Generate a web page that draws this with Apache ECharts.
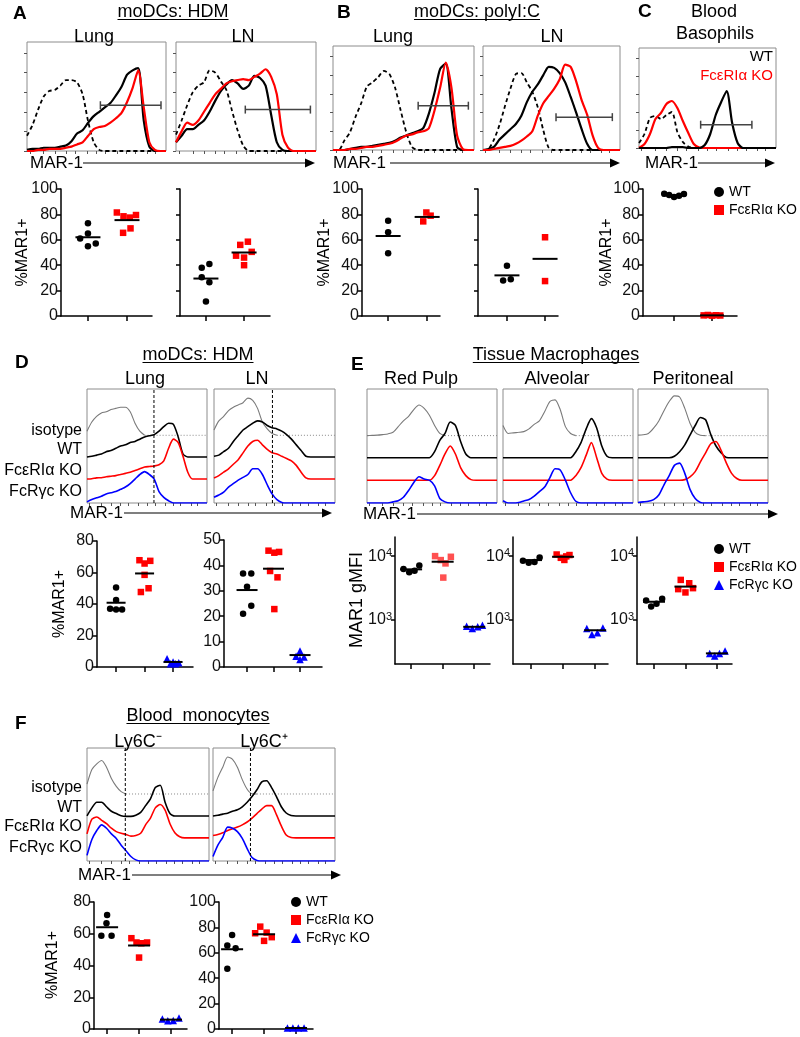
<!DOCTYPE html>
<html><head><meta charset="utf-8">
<script src="https://cdn.jsdelivr.net/npm/echarts@6/dist/echarts.min.js"></script>
<style>html,body{margin:0;padding:0;background:#fff}#c{width:800px;height:1037px}</style>
</head><body><div id="c"></div>
<script>
const FAM = '"Liberation Sans", Arial, Helvetica, sans-serif';

// ---------- histogram data (x = channel position 0..100, y = % of box height) ----------
const X = [0,4,8,12,16,20,24,28,32,36,40,44,48,52,56,60,64,68,72,76,80,84,88,92,96,100];
const histTicks = [2,12,20,28,34.5,43,50,56.5,65,71.5,78,86.5,92];
const histYTicks = [0,18,36,54,72,90];

// A
const aLungIso = [14,24,38,50,55,56,60,65,65,63,52,27,8,1,0,0,0,0,0,0,0,0,0,0,0,0];
const aLungWT  = [1,2,2,3,3,3,4,5,9,16,19,26,32,36,40,44,51,59,70,74,76,28,4,0,0,0];
const aLungKO  = [0,0,1,1,2,2,2,3,4,6,8,14,20,22,23,26,30,35,45,58,74,40,8,1,0,0];
const aLNIso   = [15,28,42,54,60,63,74,72,64,56,37,19,5,0,0,0,0,0,0,0,0,0,0,0,0,0];
const aLNWT    = [8,14,20,20,24,28,36,46,55,61,65,62,57,60,69,67,60,33,8,1,0,0,0,0,0,0];
const aLNKO    = [8,18,26,24,28,36,44,52,57,62,64,65,66,65,68,71,75,68,52,15,3,0,0,0,0,0];
const aLungGate = [52.8,96.4,42];
const aLNGate   = [49.5,96,38];
// B
const bLungIso = [0,0,9,17,32,45,61,65,70,76,73,60,38,17,3,0,0,0,0,0,0,0,0,0,0,0];
const bLungWT  = [0,0,0,1,2,3,3,4,5,6,7,9,12,14,16,18,21,35,55,78,83,40,3,0,0,0];
const bLungKO  = [0,0,0,1,1,2,3,3,4,5,6,8,11,14,15,17,18,21,38,60,84,60,14,1,0,0];
const bLNIso   = [0,1,10,24,42,59,73,74,65,56,41,19,2,0,0,0,0,0,0,0,0,0,0,0,0,0];
const bLNWT    = [0,1,3,10,15,20,25,33,46,56,63,72,80,79,74,65,51,36,20,6,0,0,0,0,0,0];
const bLNKO    = [0,0,1,2,3,4,6,9,13,18,33,45,52,59,68,82,80,66,48,34,14,2,0,0,0,0];
const bLungGate = [60.4,96,42.6];
const bLNGate   = [53.3,94.4,31.6];
// C
const cIso = [5,14,30,32,29,33,36,16,6,1.5,0,0,0,0,0,0,0,0,0,0,0,0,0,0,0,0];
const cKO  = [0,4,14,29,35,44,47,40,27,15,4,0.5,0,0,0,0,0,0,0,0,0,0,0,0,0,0];
const cWT  = [0,0,0,0,0,0,1,1,1,0,0,0,3,14,33,46,57,25,5,0,0,0,0,0,0,0];
const cGate = [45,82.4,23.3];
// D (stacked, offset curves)
const dLungIso = [63,71,76,79,80,82,83,84,84,80,70,63,59.4];
const dLungWT  = [40.4,41,42,43,45,46,48,50,51,53,54,56,58,59,60,63,67,70,69,58,43,40.4,40.4,40.4,40.4,40.4];
const dLungKO  = [21,21.3,22,22.2,23,23.5,24,25,26,27,28.5,30,31.5,32,32.5,33.5,37,48,56,53,41,27,21,21,21,21];
const dLungFc  = [1,3,4.5,6,8,9,10,12,14,17,21,25,27.5,25,21,10,5,2,0,0,0,0,0,0,0,0];
const dLNIso   = [64,72,76,81,84,86,88,92,90,83,71,65,61,59.4];
const dLNWT    = [41,42,45,48,54,59,64,67,70,72,71,68,66,65,63,60,56,51,46,41,40.4,40.4,40.4,40.4,40.4,40.4];
const dLNKO    = [22,24,27,30,34,38,44,50,54,55,51,47,44,43,41,39,37,33,27,22,21,21,21,21,21,21];
const dLNFc    = [5,7,9.5,14,17,20,22.5,25,30,30,25,16,8,3,0.5,0,0,0,0,0,0,0,0,0,0,0];
const dLungCut = 55.8, dLNCut = 48.3;
// E
const eRPIso  = [59.1,59.3,59.5,60,60.6,62,67,72,76,82,86,83,77,68,61,59.1];
const eRPWT   = [39.7,39.7,39.7,39.7,39.7,39.7,39.7,39.7,39.7,39.7,39.7,39.7,39.7,45,55,61,71,68,54,43,39.7,39.7,39.7,39.7,39.7,39.7];
const eRPKO   = [20,20,20,20,20,20,20,20,20,20,20,20,20,24,33,43,50,43,31,24,20.5,20,20,20,20,20];
const eRPFc   = [0,0,0,0,0,1,2,5,11,18,23,21,20,15,4,1,0,0,0,0,0,0,0,0,0,0];
const eAlvIso = [68,61,61.5,62,62.6,65,69,72,80,89,90.5,82,67,61,59.1];
const eAlvWT  = [39.7,39.7,39.7,39.7,39.7,39.7,39.7,39.7,39.7,39.7,39.7,39.7,39.7,39.7,45,53,65,74,66,50,41,39.7,39.7,39.7,39.7,39.7];
const eAlvKO  = [20,20,20,20,20,20,20,20,20,20,20,20,20,20,24,31,42,53,40,26,21,20,20,20,20,20];
const eAlvFc  = [2,0,0,0.5,1.8,3,6,10,14,22,30,29,20,9,1.5,0,0,0,0,0,0,0,0,0,0,0];
const ePerIso = [59.5,59.8,61,65.6,72,81,89,94,93,83,70,62,59.5,59.1];
const ePerWT  = [39.7,39.7,39.7,39.7,39.7,39.7,39.7,41,45,51,59.5,68,75,73,60,50,44,40,39.7,39.7,39.7,39.7,39.7,39.7,39.7,39.7];
const ePerKO  = [20,20,20,20,20,20,20,20,20,20.5,23,27.5,36,44,52,54,46,35,26,21.5,20,20,20,20,20,20];
const ePerFc  = [0.5,1,1.5,3,7,16,24,33,35,26,12,4,0.5,0,0,0,0,0,0,0,0,0,0,0,0,0];
// F
const fNegIso = [68,81,86,89,83,73,66,61.4,59.3];
const fNegWT  = [40,47,52,52,48,44,42,40,39.5,39.5,40.5,43,49,55,65,67,52,42,39.8,39.8,39.8,39.8,39.8,39.8,39.8,39.8];
const fNegKO  = [24,37,39,36,33,29,26,24.5,23.5,22,22.5,24.5,32,38,47,50,45,33,25,21.5,20.5,20.5,20.5,20.5,20.5,20.5];
const fNegFc  = [5,19,27,32,29,24,20,14,9,4,1,0,0,0,0,0,0,0,0,0,0,0,0,0,0,0];
const fPosIso = [62,74,83,92,90,83,72,63.5,59.5,59.3];
const fPosWT  = [39.8,40.5,41.5,42.3,44,45.3,48,52,57,63,70,71,65,57,48,42.5,40.2,39.8,39.8,39.8,39.8,39.8,39.8,39.8,39.8,39.8];
const fPosKO  = [22.5,23.5,25,27,28.5,30,32,34.5,38,42,46,49,49,41,31,23,20.8,20.5,20.5,20.5,20.5,20.5,20.5,20.5,20.5,20.5];
const fPosFc  = [4,14,21,30,29,26,20,11,3,0.5,0,0,0,0,0,0,0,0,0,0,0,0,0,0,0,0];
const fNegCut = 31.4, fPosCut = 30.7;

// ---------- dot-plot data (x = group position with jitter, y = value) ----------
const aLungWTx=[1,1,0.8,1,1.2], aLungWTy=[73,65,61,55,57];
const aLungKOx=[1.74,1.91,2.07,2.23,2.09,1.9], aLungKOy=[81.5,78.5,77.5,79.5,69,65.5];
const aLungMed=[62,75.5];
const aLNWTx=[0.89,1.09,0.89,1.09,1], aLNWTy=[38,41,30.5,26.5,11.5];
const aLNKOx=[1.9,2.1,1.79,2,2.2,2], aLNKOy=[56,58.5,47.5,46,50.5,40];
const aLNMed=[29.5,50];
const bLungWTx=[1,1,1], bLungWTy=[75,66,49.5];
const bLungKOx=[1.98,2.09,1.9], bLungKOy=[81.5,79,74.5];
const bLungMed=[63,78];
const bLNWTx=[1,0.9,1.1], bLNWTy=[39.5,28,29];
const bLNKOx=[2,2], bLNKOy=[62,27.5];
const bLNMed=[32,45];
const cWTx=[0.74,0.87,1,1.13,1.26], cWTy=[96.3,95.3,93.7,94.7,96];
const cKOx=[1.78,1.89,2,2.11,2.22], cKOy=[0.5,0.8,0.3,0.6,0.4];
const cMed=[95,0.5];

const dLungWTx=[1,1,0.79,1,1.21], dLungWTy=[50.5,42.5,37,36.5,36.5];
const dLungKOx=[1.82,2.2,2,2,2.14,1.87], dLungKOy=[67.8,67.4,65.7,58.5,50,47.6];
const dLungFcx=[2.79,2.91,3,3.09,3.2], dLungFcy=[5.3,2.1,3.2,2.1,2.7];
const dLungMed=[40.8,59.4,3.2];
const dLNWTx=[0.85,1.16,1,1.16,0.85], dLNWTy=[36.8,36.8,31.6,24.1,21];
const dLNKOx=[1.81,2.03,2.21,1.87,2.15,2.03], dLNKOy=[45.8,45,45.3,37.8,35.3,22.8];
const dLNFcx=[3,2.85,3.15,3], dLNFcy=[6.3,4.2,3.9,3];
const dLNMed=[30.3,38.7,4.7];

const eRPWTx=[0.76,0.94,1.11,1.26], eRPWTy=[6270,5560,5900,7140];
const eRPKOx=[1.76,1.94,2.09,2.26,2.02], eRPKOy=[10000,8660,7680,9760,4590];
const eRPFcx=[2.76,2.94,3.11,3.26], eRPFcy=[787,723,770,815];
const eRPMed=[6190,8160,770];
const eAlvWTx=[0.75,0.93,1.11,1.27], eAlvWTy=[8460,7870,8060,9530];
const eAlvKOx=[1.8,1.93,2.04,2.2,2.1], eAlvKOy=[10600,9400,8700,10400,9900];
const eAlvFcx=[2.74,2.9,3.07,3.24], eAlvFcy=[723,584,620,740];
const eAlvMed=[8660,9760,680];
const ePerWTx=[0.75,0.91,1.08,1.26], ePerWTy=[2000,1610,1780,2130];
const ePerKOx=[1.85,2.12,1.77,2,2.24], ePerKOy=[4220,3740,3020,2680,3130];
const ePerFcx=[2.77,2.93,3.08,3.26], ePerFcy=[294,268,294,320];
const ePerMed=[1910,3310,294];

const fNegWTx=[1,0.98,0.82,1.14], fNegWTy=[71.8,66.6,58.8,58.8];
const fNegKOx=[1.76,1.92,2.07,2.25,2], fNegKOy=[57.2,54.5,54,54.5,45];
const fNegFcx=[2.73,2.9,3.07,3.25], fNegFcy=[6.3,5.2,5.4,6.9];
const fNegMed=[64.1,52.6,5.9];
const fPosWTx=[1,0.85,1.11,0.85], fPosWTy=[74.1,65.7,63.6,47.4];
const fPosKOx=[1.88,1.72,2.08,2.24,2], fPosKOy=[80.6,75.4,75.9,72.3,69.4];
const fPosFcx=[2.73,2.9,3.07,3.25], fPosFcy=[0.8,0.8,0.8,0.8];
const fPosMed=[62.8,74.6,0.8];

const logLabels = [1000,10000];
const WT='WT', KO='FcεRIα KO', FC='FcRγc KO';

// ---------- builders ----------
const grids=[], xAxis=[], yAxis=[], series=[], G=[];
function addGrid(g, xa, ya){
  const i=grids.length;
  grids.push(Object.assign({outerBoundsMode:'none', containLabel:false}, g));
  xAxis.push(Object.assign({gridIndex:i}, xa));
  yAxis.push(Object.assign({gridIndex:i}, ya));
  return i;
}
function histGrid(l,t,w,h,leftTicks){
  return addGrid({left:l,top:t,width:w,height:h,show:true,borderColor:'#8c8c8c',borderWidth:1,backgroundColor:'rgba(0,0,0,0)'},
    {type:'value',min:0,max:100,axisLine:{show:false},splitLine:{show:false},axisLabel:{show:false},
     axisTick:{show:true,customValues:histTicks,length:3,lineStyle:{color:'#555',width:1}}},
    {type:'value',min:0,max:100,axisLine:{show:false},splitLine:{show:false},axisLabel:{show:false},
     axisTick:{show:leftTicks,customValues:histYTicks,length:3,lineStyle:{color:'#555',width:1}}});
}
function curve(gi, ys, color, width, type){
  series.push({type:'line',xAxisIndex:gi,yAxisIndex:gi,data:ys.map((v,k)=>[X[k],v]),symbol:'none',
    smooth:0.25,lineStyle:{color:color,width:width,type:type||'solid'},silent:true,z:3});
}
function gate(gi,g){
  series.push({type:'line',xAxisIndex:gi,yAxisIndex:gi,data:[[g[0],g[2]],[g[1],g[2]]],symbol:'rect',symbolSize:[1.5,8],
    showSymbol:true,itemStyle:{color:'#444',opacity:1},lineStyle:{color:'#444',width:1.5},silent:true,z:4});
}
function vcut(gi,x){
  series.push({type:'line',xAxisIndex:gi,yAxisIndex:gi,data:[[x,0],[x,100]],symbol:'none',
    lineStyle:{color:'#000',width:1,type:[3,2]},silent:true,z:5});
}
function panel3(gi, iso, a, b, g){
  curve(gi, iso, '#000', 1.8, [4,3]);
  curve(gi, a, a===cKO?'#ff0000':'#000', 2.2);
  curve(gi, b, b===cWT?'#000':'#ff0000', 2.2);
  if(g) gate(gi,g);
}
function panel4(gi, iso, wt, ko, fc){
  const n=iso.length;
  series.push({type:'line',xAxisIndex:gi,yAxisIndex:gi,data:[[X[n-1],iso[n-1]],[100,iso[n-1]]],symbol:'none',
    lineStyle:{color:'#888',width:1,type:[1,2]},silent:true,z:2});
  curve(gi, iso, '#7a7a7a', 1.1);
  curve(gi, wt, '#000', 1.6);
  curve(gi, ko, '#ff0000', 1.6);
  curve(gi, fc, '#0000ff', 1.6);
}
const axLine={show:true,onZero:false,lineStyle:{color:'#000',width:1.5}};
function scatGrid(l,t,w,h,xmin,xmax,cats,y){
  let ya;
  const lab={show:y.labels,fontSize:16,fontFamily:FAM,color:'#111',margin:3};
  if(y.log){
    ya={type:'log',logBase:10,min:y.min,max:y.max,axisLine:axLine,splitLine:{show:false},
      axisTick:{show:true,customValues:logLabels,length:4,lineStyle:{color:'#000',width:1.5}},
      axisLabel:Object.assign({customValues:logLabels,formatter:v=>(v>=10000?'{n|10}{s|4}':'{n|10}{s|3}'),
        rich:{n:{fontSize:16,fontFamily:FAM,color:'#111'},s:{fontSize:11,fontFamily:FAM,color:'#111',verticalAlign:'top',padding:[0,0,6,0]}}},lab)};
  } else {
    ya={type:'value',min:y.min,max:y.max,interval:y.interval,axisLine:axLine,splitLine:{show:false},
      axisTick:{show:true,length:4,lineStyle:{color:'#000',width:1.5}},axisLabel:lab};
  }
  return addGrid({left:l,top:t,width:w,height:h},
    {type:'value',min:xmin,max:xmax,axisLine:axLine,splitLine:{show:false},axisLabel:{show:false},
     axisTick:{show:true,customValues:cats,length:5,lineStyle:{color:'#000',width:1.5}}},ya);
}
function pts(gi,name,xs,ys,symbol,color,size){
  series.push({type:'scatter',name:name,xAxisIndex:gi,yAxisIndex:gi,data:ys.map((v,k)=>[xs[k],v]),
    symbol:symbol,symbolSize:size,itemStyle:{color:color,opacity:1},clip:false,silent:true,z:3});
}
function med(gi,meds,w){
  series.push({type:'scatter',xAxisIndex:gi,yAxisIndex:gi,data:meds.map((m,k)=>[k+1,m]),symbol:'rect',
    symbolSize:[w,2],itemStyle:{color:'#000',opacity:1},clip:false,silent:true,z:6});
}
function dots3(gi, wx,wy, kx,ky, fx,fy, meds, w, koColor){
  pts(gi,WT,wx,wy,'circle','#000',6.5);
  pts(gi,KO,kx,ky,'rect',koColor||'#ff0000',6.5);
  if(fx) pts(gi,FC,fx,fy,'triangle','#0000ff',7.5);
  med(gi,meds,w);
}

// ---------- text helpers ----------
const mctx=document.createElement('canvas').getContext('2d');
function tw(t,size,weight){ mctx.font=(weight||'normal')+' '+size+'px '+FAM; return mctx.measureText(t).width; }
function txt(x,y,t,size,o){
  o=o||{};
  G.push({type:'text',x:x,y:y,rotation:o.rot||0,silent:true,z:10,
    style:{text:t,fontSize:size,fontFamily:FAM,fontWeight:o.bold?'bold':'normal',fill:o.color||'#000',
      align:o.align||'center',verticalAlign:'middle'}});
}
function utitle(x,y,t,size){
  txt(x,y,t,size);
  const w=tw(t,size);
  G.push({type:'line',silent:true,z:10,shape:{x1:x-w/2,y1:y+7.5,x2:x+w/2,y2:y+7.5},style:{stroke:'#000',lineWidth:1.2}});
}
function arrow(tx,x1,x2,y){
  txt(tx,y,'MAR-1',17,{align:'left'});
  G.push({type:'line',silent:true,z:10,shape:{x1:x1,y1:y,x2:x2-8,y2:y},style:{stroke:'#000',lineWidth:1.2}});
  G.push({type:'polygon',silent:true,z:10,shape:{points:[[x2,y],[x2-10,y-4.5],[x2-10,y+4.5]]},style:{fill:'#000'}});
}

// ---------- Panel A ----------
let g;
g=histGrid(27,42,139,109,true);  panel3(g,aLungIso,aLungWT,aLungKO,aLungGate);
g=histGrid(176,42,140,109,true); panel3(g,aLNIso,aLNWT,aLNKO,aLNGate);
// ---------- Panel B ----------
g=histGrid(333,46,141,104,true); panel3(g,bLungIso,bLungWT,bLungKO,bLungGate);
g=histGrid(483,46,137,104,true); panel3(g,bLNIso,bLNWT,bLNKO,bLNGate);
// ---------- Panel C ----------
g=histGrid(639,48,137,100,true); panel3(g,cIso,cKO,cWT,cGate);

// ---------- Row 1 dot plots ----------
const y100={min:0,max:100,interval:20,labels:true}, y100n={min:0,max:100,interval:20,labels:false};
g=scatGrid(61,189,91,127,0.31,2.64,[1,2],y100);  dots3(g,aLungWTx,aLungWTy,aLungKOx,aLungKOy,null,null,aLungMed,25);
g=scatGrid(180,189,90,127,0.32,2.68,[1,2],y100n); dots3(g,aLNWTx,aLNWTy,aLNKOx,aLNKOy,null,null,aLNMed,25);
g=scatGrid(362,189,78,127,0.33,2.33,[1,2],y100); dots3(g,bLungWTx,bLungWTy,bLungKOx,bLungKOy,null,null,bLungMed,25);
g=scatGrid(478,189,80,127,0.24,2.34,[1,2],y100n); dots3(g,bLNWTx,bLNWTy,bLNKOx,bLNKOy,null,null,bLNMed,25);
g=scatGrid(643,189,94,127,0.18,2.66,[1,2],y100); dots3(g,cWTx,cWTy,cKOx,cKOy,null,null,cMed,24);

// ---------- Panel D ----------
g=histGrid(87,389,120,114,false);  panel4(g,dLungIso,dLungWT,dLungKO,dLungFc); vcut(g,dLungCut);
g=histGrid(214,389,121,114,false); panel4(g,dLNIso,dLNWT,dLNKO,dLNFc); vcut(g,dLNCut);
g=scatGrid(97,541,96,126,0.33,3.7,[1,2,3],{min:0,max:80,interval:20,labels:true});
dots3(g,dLungWTx,dLungWTy,dLungKOx,dLungKOy,dLungFcx,dLungFcy,dLungMed,19);
g=scatGrid(224,540,98,127,0.13,3.83,[1,2,3],{min:0,max:50,interval:10,labels:true});
dots3(g,dLNWTx,dLNWTy,dLNKOx,dLNKOy,dLNFcx,dLNFcy,dLNMed,21);

// ---------- Panel E ----------
g=histGrid(367,389,130,114,false); panel4(g,eRPIso,eRPWT,eRPKO,eRPFc);
g=histGrid(503,389,130,114,false); panel4(g,eAlvIso,eAlvWT,eAlvKO,eAlvFc);
g=histGrid(638,389,130,114,false); panel4(g,ePerIso,ePerWT,ePerKO,ePerFc);
const ylog={log:true,min:200,max:20000,labels:true};
g=scatGrid(395,537,95,127,0.49,3.5,[1,2,3],ylog); dots3(g,eRPWTx,eRPWTy,eRPKOx,eRPKOy,eRPFcx,eRPFcy,eRPMed,22,'#ff5050');
g=scatGrid(513,537,95,127,0.44,3.4,[1,2,3],ylog); dots3(g,eAlvWTx,eAlvWTy,eAlvKOx,eAlvKOy,eAlvFcx,eAlvFcy,eAlvMed,22);
g=scatGrid(637,537,95,127,0.46,3.48,[1,2,3],ylog); dots3(g,ePerWTx,ePerWTy,ePerKOx,ePerKOy,ePerFcx,ePerFcy,ePerMed,22);

// ---------- Panel F ----------
g=histGrid(87,748,122,113,false);  panel4(g,fNegIso,fNegWT,fNegKO,fNegFc); vcut(g,fNegCut);
g=histGrid(213,748,122,113,false); panel4(g,fPosIso,fPosWT,fPosKO,fPosFc); vcut(g,fPosCut);
g=scatGrid(94,902,93,127,0.59,3.5,[1,2,3],{min:0,max:80,interval:20,labels:true});
dots3(g,fNegWTx,fNegWTy,fNegKOx,fNegKOy,fNegFcx,fNegFcy,fNegMed,22);
g=scatGrid(219,902,94,127,0.59,3.53,[1,2,3],{min:0,max:100,interval:20,labels:true});
dots3(g,fPosWTx,fPosWTy,fPosKOx,fPosKOy,fPosFcx,fPosFcy,fPosMed,22);

// ---------- texts ----------
txt(13,13.5,'A',19,{bold:true,align:'left'});
txt(337,12.5,'B',19,{bold:true,align:'left'});
txt(638,11.5,'C',19,{bold:true,align:'left'});
txt(15,363,'D',19,{bold:true,align:'left'});
txt(351,364.5,'E',19,{bold:true,align:'left'});
txt(15,723.5,'F',19,{bold:true,align:'left'});

utitle(173,12,'moDCs: HDM',18);
utitle(477,12,'moDCs: polyI:C',18);
txt(714,12,'Blood',18); txt(715,34,'Basophils',18);
utitle(198,355,'moDCs: HDM',18);
utitle(556,355,'Tissue Macrophages',18);
utitle(198,716,'Blood  monocytes',18);

txt(94,37,'Lung',18); txt(243,37,'LN',18);
txt(393,37,'Lung',18); txt(552,37,'LN',18);
txt(145,379,'Lung',18); txt(257,379,'LN',18);
txt(421,379,'Red Pulp',18); txt(557,379,'Alveolar',18); txt(693,379,'Peritoneal',18);
txt(138,742,'Ly6C⁻',18); txt(264,742,'Ly6C⁺',18);

txt(773,57,'WT',15,{align:'right'});
txt(773,76,'FcεRIα KO',15,{align:'right',color:'#ff0000'});

[['isotype',431],['WT',450],['FcεRIα KO',471],['FcRγc KO',492]].forEach(r=>txt(82,r[1],r[0],16,{align:'right'}));
[['isotype',788],['WT',808],['FcεRIα KO',827],['FcRγc KO',848]].forEach(r=>txt(82,r[1],r[0],16,{align:'right'}));

arrow(30,83,315,163);
arrow(333,390,620,163);
arrow(645,698,775,163);
arrow(70,124,332,513);
arrow(363,417,778,514);
arrow(78,132,341,875);

const R=Math.PI/2;
txt(23,252.5,'%MAR1+',16,{rot:R});
txt(325,252.5,'%MAR1+',16,{rot:R});
txt(607,252.5,'%MAR1+',16,{rot:R});
txt(60,604,'%MAR1+',16,{rot:R});
txt(357,600,'MAR1 gMFI',18,{rot:R});
txt(53,965,'%MAR1+',16,{rot:R});

// ---------- legends ----------
const legBase={orient:'vertical',itemWidth:10,itemHeight:10,itemGap:4,selectedMode:false,
  textStyle:{fontSize:14,fontFamily:FAM,color:'#000'}};
const legends=[
  Object.assign({left:709,top:180,data:[{name:WT,icon:'circle'},{name:KO,icon:'rect'}]},legBase),
  Object.assign({left:709,top:537,data:[{name:WT,icon:'circle'},{name:KO,icon:'rect'},{name:FC,icon:'triangle'}]},legBase),
  Object.assign({left:286,top:890,data:[{name:WT,icon:'circle'},{name:KO,icon:'rect'},{name:FC,icon:'triangle'}]},legBase)
];

const chart=echarts.init(document.getElementById('c'),null,{renderer:'canvas'});
chart.setOption({animation:false,backgroundColor:'#fff',grid:grids,xAxis:xAxis,yAxis:yAxis,series:series,
  legend:legends,graphic:{elements:G}});
</script></body></html>
